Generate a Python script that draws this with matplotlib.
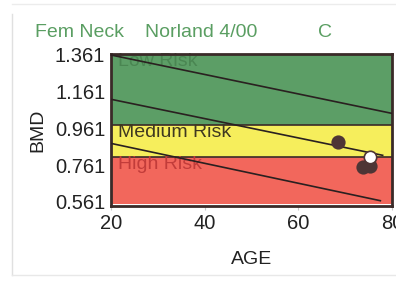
import matplotlib
matplotlib.use("Agg")
import matplotlib.pyplot as plt
from matplotlib.lines import Line2D

plt.rcParams['font.family'] = ['Liberation Sans', 'DejaVu Sans']

# reference curves (mean and +/- band), age vs BMD
curve_age = [20, 80]
upper_bmd = [1.361, 1.043]
mean_age = [20, 78]
mean_bmd = [1.120, 0.815]
lower_age = [20, 77.5]
lower_bmd = [0.880, 0.568]

# risk zones
zone_names = ["Low Risk", "Medium Risk", "High Risk"]
zone_low = [0.980, 0.806, 0.552]
zone_high = [1.366, 0.980, 0.806]
zone_colors = ["#5c9e66", "#f6ee5c", "#f2675c"]
zone_text_colors = ["#4a8652", "#3f3820", "#c23c3a"]

# patient measurements
meas_age = [68.4, 73.8, 75.2]
meas_bmd = [0.885, 0.752, 0.755]
last_age = [75.3]
last_bmd = [0.806]

yticks = [0.561, 0.761, 0.961, 1.161, 1.361]
xticks = [20, 40, 60, 80]

fig = plt.figure(figsize=(3.96, 2.83), dpi=100)
ax = fig.add_axes([0.280, 0.272, 0.710, 0.537])

for lo, hi, c in zip(zone_low, zone_high, zone_colors):
    ax.axhspan(lo, hi, color=c, lw=0, zorder=0)
for lo in zone_low[:2]:
    ax.axhline(lo, color="#3a2a28", lw=1.2, zorder=1)

for name, hi, tc in zip(zone_names, zone_high, zone_text_colors):
    ax.text(21.6, hi + 0.004, name, color=tc, fontsize=14,
            va="top", ha="left", zorder=2)

ax.plot(curve_age, upper_bmd, color="#2a2020", lw=1.2, zorder=3)
ax.plot(mean_age, mean_bmd, color="#2a2020", lw=1.2, zorder=3)
ax.plot(lower_age, lower_bmd, color="#2a2020", lw=1.2, zorder=3)

ax.scatter(meas_age, meas_bmd, s=105, color="#4e3535", lw=0, zorder=4)
ax.scatter(last_age, last_bmd, s=80, color="white", edgecolor="#4e3535",
           lw=1.2, zorder=5)

ax.set_xlim(20, 80)
ax.set_ylim(0.539, 1.366)
ax.set_xticks(xticks)
ax.set_yticks(yticks)
ax.set_yticklabels([f"{v:.3f}" for v in yticks])
ax.tick_params(axis="both", labelsize=14.5, colors="#c8c8c8",
               labelcolor="#222222", length=3, width=0.8)
ax.tick_params(axis="y", length=0, pad=4)
ax.tick_params(axis="x", pad=3)
for s in ax.spines.values():
    s.set_color("#3a2a28")
    s.set_linewidth(2)

ax.set_xlabel("AGE", fontsize=14, color="#222222", labelpad=13)
ax.set_ylabel("BMD", fontsize=14, color="#222222", labelpad=6)

fig.text(0.088, 0.87, "Fem Neck", color="#5a9e62", fontsize=14)
fig.text(0.366, 0.87, "Norland 4/00", color="#5a9e62", fontsize=14)
fig.text(0.803, 0.87, "C", color="#5a9e62", fontsize=14)

# faint outer frame of the scanned report
fig.add_artist(Line2D([0.03, 0.03], [0.03, 0.95], transform=fig.transFigure,
                      color="#e0e0e0", lw=1))
fig.add_artist(Line2D([0.03, 1.0], [0.028, 0.028], transform=fig.transFigure,
                      color="#e8e8e8", lw=1))
fig.add_artist(Line2D([0.03, 1.0], [0.985, 0.985], transform=fig.transFigure,
                      color="#ececec", lw=1))

fig.savefig("out.png", dpi=100)
